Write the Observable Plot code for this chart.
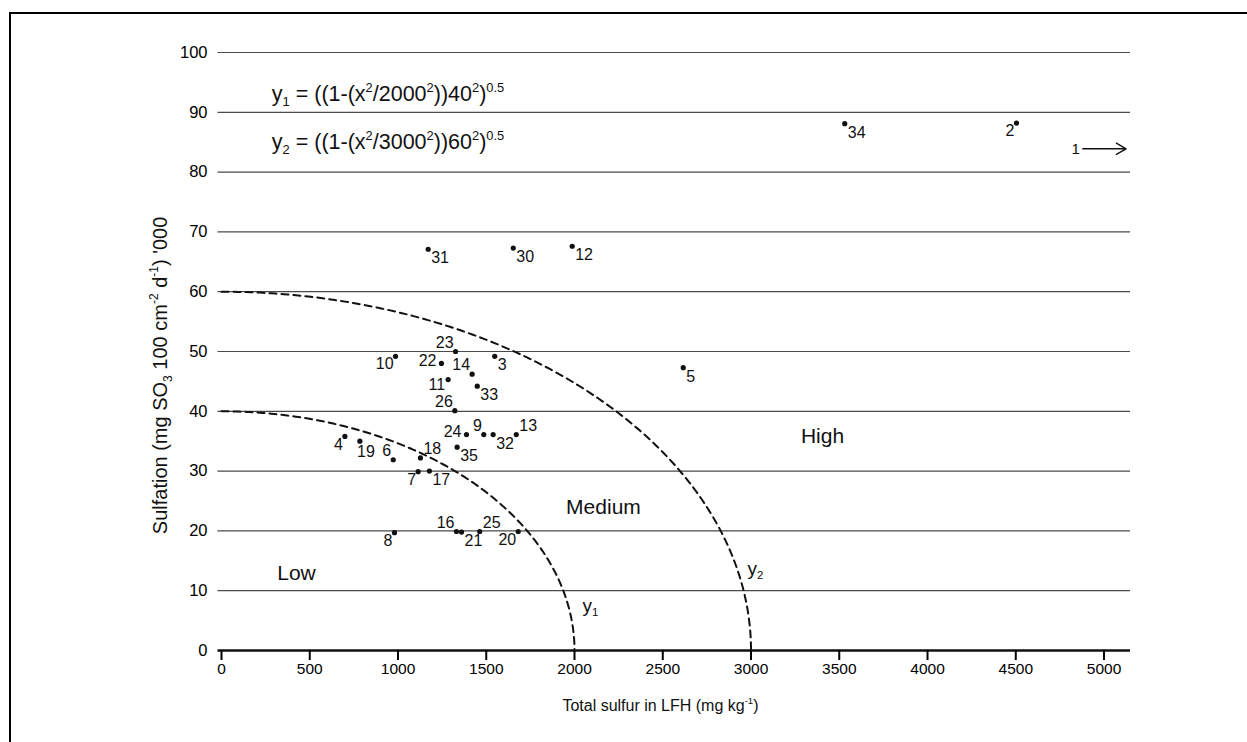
<!DOCTYPE html>
<html>
<head>
<meta charset="utf-8">
<script src="https://cdn.jsdelivr.net/npm/d3@7"></script>
<script src="https://cdn.jsdelivr.net/npm/@observablehq/plot@0.6"></script>
<style>
  html, body { margin: 0; padding: 0; background: #fff; }
  #chart { position: relative; width: 1247px; height: 742px; overflow: hidden; }
  #chart svg { font-family: "Liberation Sans", Arial, Helvetica, sans-serif; }
  #border {
    position: absolute; left: 9px; top: 12px; right: 0; bottom: 0;
    border-left: 2px solid #000; border-top: 2px solid #000; pointer-events: none;
  }
</style>
</head>
<body>
<div id="chart"><div id="border"></div></div>
<script>
// Sampling sites: total sulfur in the LFH layer vs. sulfation rate
const siteIds = [34, 2, 31, 30, 12, 5, 23, 10, 22, 3, 14, 11, 33, 26, 24, 9, 32, 13, 4, 19, 6, 18, 35, 7, 17, 8, 16, 21, 25, 20];
const totalSulfur = [3531, 4504, 1171, 1653, 1987, 2616, 1326, 986, 1246, 1548, 1420, 1284, 1449, 1322, 1388, 1486, 1539, 1670, 699, 784, 973, 1127, 1335, 1114, 1178, 980, 1331, 1360, 1463, 1681];
const sulfation = [88.1, 88.2, 67.1, 67.3, 67.6, 47.3, 50.0, 49.2, 48.0, 49.2, 46.2, 45.3, 44.2, 40.1, 36.1, 36.1, 36.1, 36.1, 35.8, 35.0, 31.9, 32.2, 34.0, 29.9, 30.0, 19.7, 19.9, 19.8, 19.9, 19.9];
// which side of its dot each site number sits on
const labelSide = ["se", "sw", "se", "se", "se", "se", "nw", "sw", "w", "se", "nw", "wsw", "se", "nw", "w", "nw", "se", "ne", "sw", "s", "nw", "ne", "se", "sw", "se", "sw", "nw", "se", "ne", "sw"];

// site 1 lies off the chart to the right
const offChartId = "1";
const offChartSulfation = 83.9;

const xTicks = [0, 500, 1000, 1500, 2000, 2500, 3000, 3500, 4000, 4500, 5000];
const yTicks = [0, 10, 20, 30, 40, 50, 60, 70, 80, 90, 100];

// zone boundaries: y = ((1 - x^2/a^2) b^2)^0.5
const boundaryNames = ["y_1", "y_2"];
const boundaryA = [2000, 3000];
const boundaryB = [40, 60];

const zoneNames = ["Low", "Medium", "High"];
const zoneX = [425, 2164, 3405];
const zoneY = [12.9, 23.9, 35.8];

const sites = siteIds.map((id, i) => ({id: String(id), x: totalSulfur[i], y: sulfation[i], side: labelSide[i]}));

const boundaries = boundaryA.flatMap((a, k) => {
  const b = boundaryB[k];
  const xs = d3.range(0, 1.0001, 0.005).map(t => a * Math.sin(t * Math.PI / 2));
  return xs.map(x => ({curve: boundaryNames[k], x, y: Math.sqrt(Math.max(0, (1 - (x * x) / (a * a)) * b * b))}));
});

const formulas = boundaryA.map((a, k) =>
  `${boundaryNames[k]} = ((1-(x^2/${a}^2))${boundaryB[k]}^2)^{0.5}`);

const sideStyle = {
  se:  {dx: 3, dy: 9, textAnchor: "start"},
  ne:  {dx: 3, dy: -9, textAnchor: "start"},
  sw:  {dx: -2, dy: 8, textAnchor: "end"},
  wsw: {dx: -3, dy: 5, textAnchor: "end"},
  nw:  {dx: -2, dy: -9, textAnchor: "end"},
  w:   {dx: -5, dy: -3, textAnchor: "end"},
  s:   {dx: 6, dy: 11, textAnchor: "middle"}
};

const gridLeft = -20;
const gridRight = 5150;

const plot = Plot.plot({
  width: 1247,
  height: 742,
  marginLeft: 221,
  marginRight: 117,
  marginTop: 52,
  marginBottom: 92,
  style: {background: "transparent", fontFamily: "Liberation Sans, Arial, sans-serif"},
  x: {domain: [0, 5150]},
  y: {domain: [0, 100]},
  marks: [
    Plot.ruleY(yTicks.filter(v => v > 0), {x1: gridLeft, x2: gridRight, stroke: "#4a4a4a", strokeWidth: 1.2}),
    Plot.ruleY([0], {x1: gridLeft, x2: gridRight, stroke: "#111", strokeWidth: 2.6}),
    Plot.axisX({ticks: xTicks, tickSize: 10, tickPadding: 2, strokeWidth: 2, fontSize: 15.5, label: null, tickFormat: d => String(d)}),
    Plot.axisY({ticks: yTicks, tickSize: 0, tickPadding: 14, fontSize: 16.5, label: null, tickFormat: d => String(d)}),
    Plot.line(boundaries, {x: "x", y: "y", z: "curve", stroke: "#111", strokeWidth: 2, strokeDasharray: "7,5"}),
    Plot.dot(sites, {x: "x", y: "y", r: 2.6, fill: "#111", stroke: null}),
    ...Object.entries(sideStyle).map(([side, s]) =>
      Plot.text(sites.filter(d => d.side === side), {x: "x", y: "y", text: "id", fontSize: 16, fill: "#111", ...s})),
    // site 1, off scale
    Plot.text([offChartId], {x: 4839, y: offChartSulfation, text: d => d, fontSize: 15, fill: "#111"}),
    Plot.arrow([offChartSulfation], {x1: 4880, x2: 5125, y1: d => d, y2: d => d, stroke: "#111", strokeWidth: 1.4, headLength: 12, bend: 0}),
    // zone names
    Plot.text(zoneNames, {x: (d, i) => zoneX[i], y: (d, i) => zoneY[i], text: d => d, fontSize: 21, fill: "#111"}),
    // boundary names
    Plot.text(boundaryNames, {x: (d, i) => [2045, 2980][i], y: (d, i) => [7.5, 13.7][i], text: d => d, fontSize: 19, textAnchor: "start", fill: "#111"}),
    // boundary equations
    Plot.text(formulas, {x: 285, y: (d, i) => [93.1, 85.0][i], text: d => d, fontSize: 21.5, textAnchor: "start", fill: "#111"}),
    // axis titles
    Plot.text(["Total sulfur in LFH (mg kg^{-1})"], {x: 2487, y: -9.2, text: d => d, fontSize: 16, fill: "#111"}),
    Plot.text(["Sulfation (mg SO_3 100 cm^{-2} d^{-1}) '000"], {x: -346, y: 46, text: d => d, fontSize: 20, rotate: -90, fill: "#111"})
  ]
});

// Turn ^x / ^{..} and _x / _{..} into raised / lowered tspans
function richText(textEl) {
  const src = textEl.textContent;
  if (!/[\^_]/.test(src)) return;
  const fs = parseFloat(getComputedStyle(textEl).fontSize) || 16;
  const segs = [];
  let i = 0, buf = "";
  while (i < src.length) {
    const c = src[i];
    if (c === "^" || c === "_") {
      if (buf) { segs.push({t: buf, k: "n"}); buf = ""; }
      let body;
      if (src[i + 1] === "{") { const j = src.indexOf("}", i); body = src.slice(i + 2, j); i = j + 1; }
      else { body = src[i + 1]; i += 2; }
      segs.push({t: body, k: c === "^" ? "sup" : "sub"});
    } else { buf += c; i++; }
  }
  if (buf) segs.push({t: buf, k: "n"});
  const sel = d3.select(textEl);
  sel.text(null);
  let shift = 0;
  for (const s of segs) {
    const target = s.k === "sup" ? -0.42 * fs : s.k === "sub" ? 0.25 * fs : 0;
    const ts = sel.append("tspan").text(s.t).attr("dy", target - shift);
    if (s.k !== "n") ts.attr("font-size", (0.6 * fs).toFixed(1));
    shift = target;
  }
}

document.getElementById("chart").appendChild(plot);
d3.select(plot).selectAll("text").each(function () { richText(this); });
</script>
</body>
</html>
